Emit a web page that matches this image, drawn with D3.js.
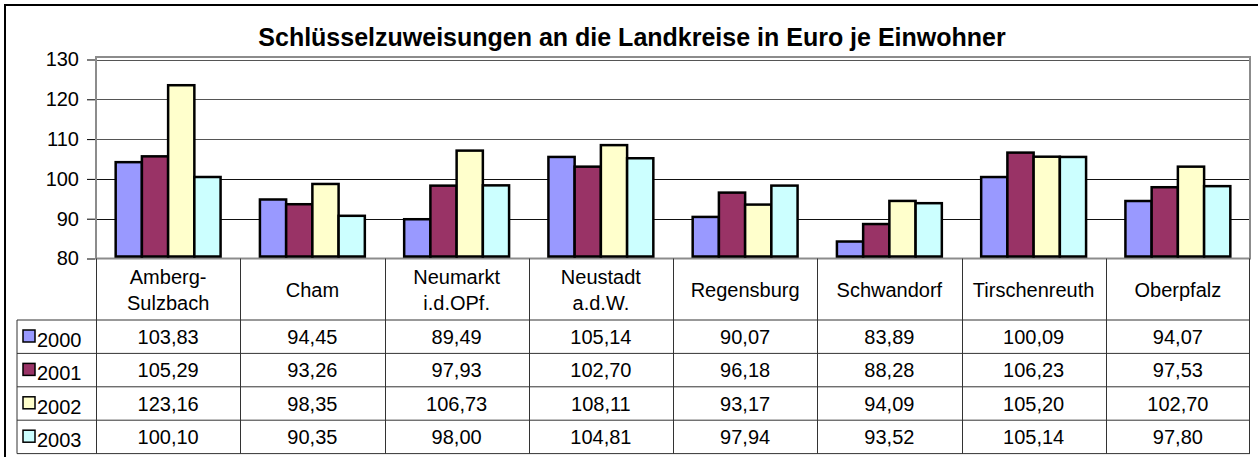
<!DOCTYPE html>
<html>
<head>
<meta charset="utf-8">
<style>
body { margin: 0; background: #fff; }
svg { display: block; font-family: "Liberation Sans", Arial, sans-serif; }
</style>
</head>
<body>
<svg id="svg"></svg>
<script src="https://cdnjs.cloudflare.com/ajax/libs/d3/7.8.5/d3.min.js"></script>
<script>
var categories = ["Amberg-\nSulzbach", "Cham", "Neumarkt\ni.d.OPf.", "Neustadt\na.d.W.", "Regensburg", "Schwandorf", "Tirschenreuth", "Oberpfalz"]
var years = ["2000", "2001", "2002", "2003"]
var v2000 = [103.83, 94.45, 89.49, 105.14, 90.07, 83.89, 100.09, 94.07]
var v2001 = [105.29, 93.26, 97.93, 102.70, 96.18, 88.28, 106.23, 97.53]
var v2002 = [123.16, 98.35, 106.73, 108.11, 93.17, 94.09, 105.20, 102.70]
var v2003 = [100.10, 90.35, 98.00, 104.81, 97.94, 93.52, 105.14, 97.80]
var yTicks = [80, 90, 100, 110, 120, 130]
var colors = ["#9999ff", "#993366", "#ffffcc", "#ccffff"]
var series = [v2000, v2001, v2002, v2003]
var title = "Schlüsselzuweisungen an die Landkreise in Euro je Einwohner"

var W = 1258, H = 457
var plot = {left: 96, right: 1250, top: 59.5, bottom: 258.5}
var headerTop = 260, headerBottom = 320, rowH = 33.4
var legendLeft = 17

var fmt = function(v) { return v.toFixed(2).replace(".", ",") }

var svg = d3.select("#svg").attr("width", W).attr("height", H)

// outer chart frame (cut off on right/bottom)
svg.append("rect")
  .attr("x", 5).attr("y", 5).attr("width", 1270).attr("height", 470)
  .attr("fill", "#fff").attr("stroke", "#000").attr("stroke-width", 2)

svg.append("text")
  .attr("x", 632).attr("y", 46)
  .attr("text-anchor", "middle")
  .attr("font-size", 25).attr("font-weight", "bold")
  .text(title)

var x = d3.scaleBand().domain(categories).range([plot.left, plot.right])
var bw = x.bandwidth()
var x1 = d3.scaleBand().domain(years).range([bw * 0.75 / 5.5, bw - bw * 0.75 / 5.5])
var y = d3.scaleLinear().domain([80, 130]).range([plot.bottom, plot.top])

// plot area frame
svg.append("rect")
  .attr("x", plot.left).attr("y", plot.top - 2.5)
  .attr("width", plot.right - plot.left).attr("height", plot.bottom - plot.top + 2.5)
  .attr("fill", "#fff").attr("stroke", "#8c8c8c").attr("stroke-width", 2)

// gridlines
svg.append("g").selectAll("line")
  .data(yTicks.filter(function(d) { return d > 80 }))
  .enter().append("line")
  .attr("x1", plot.left + 1).attr("x2", plot.right - 1)
  .attr("y1", function(d) { return Math.round(y(d)) + 0.5 })
  .attr("y2", function(d) { return Math.round(y(d)) + 0.5 })
  .attr("stroke", function(d) { return d > 105 ? "#555" : "#111" })
  .attr("stroke-width", 1)

// y axis
var yAxis = d3.axisLeft(y).tickValues(yTicks).tickSize(8).tickPadding(8)
var ga = svg.append("g").attr("transform", "translate(" + (plot.left - 1) + ",0)").call(yAxis)
ga.select(".domain").remove()
ga.selectAll("text").attr("font-size", 20).attr("font-family", "Liberation Sans, Arial, sans-serif").attr("fill", "#000")
ga.selectAll("line").attr("stroke", "#000")

// bars (outline drawn outside the value, as in the original)
var groups = svg.append("g").selectAll("g")
  .data(categories)
  .enter().append("g")
  .attr("transform", function(d) { return "translate(" + x(d) + ",0)" })
groups.selectAll("rect")
  .data(function(d, i) { return series.map(function(s, j) { return {year: years[j], value: s[i], c: colors[j]} }) })
  .enter().append("rect")
  .attr("x", function(d) { return x1(d.year) })
  .attr("width", x1.bandwidth())
  .attr("y", function(d) { return y(d.value) - 1.5 })
  .attr("height", function(d) { return y(80) - y(d.value) - 0.5 })
  .attr("fill", function(d) { return d.c })
  .attr("stroke", "#000").attr("stroke-width", 2.5)

// data table
var tbl = svg.append("g")
var lineCol = "#333"
tbl.append("line").attr("x1", plot.left).attr("x2", plot.right).attr("y1", headerBottom).attr("y2", headerBottom).attr("stroke", lineCol)
years.forEach(function(yr, i) {
  var yy = headerBottom + (i + 1) * rowH
  tbl.append("line").attr("x1", legendLeft).attr("x2", plot.right).attr("y1", yy).attr("y2", yy).attr("stroke", lineCol)
})
tbl.append("line").attr("x1", legendLeft).attr("x2", plot.left).attr("y1", headerBottom).attr("y2", headerBottom).attr("stroke", lineCol)
tbl.append("line").attr("x1", legendLeft).attr("x2", legendLeft).attr("y1", headerBottom).attr("y2", headerBottom + 4 * rowH).attr("stroke", lineCol)
categories.concat(["end"]).forEach(function(c, i) {
  var xx = c === "end" ? plot.right - 0.5 : Math.round(x(c)) + 0.5
  tbl.append("line").attr("x1", xx).attr("x2", xx).attr("y1", plot.bottom).attr("y2", headerBottom + 4 * rowH).attr("stroke", lineCol)
})

// category labels
categories.forEach(function(c) {
  var parts = c.split("\n")
  var cx = x(c) + bw / 2
  var t = tbl.append("text").attr("text-anchor", "middle").attr("font-size", 20)
  if (parts.length === 1) {
    t.attr("x", cx).attr("y", 297).text(c)
  } else {
    t.append("tspan").attr("x", cx).attr("y", 284).text(parts[0])
    t.append("tspan").attr("x", cx).attr("y", 310).text(parts[1])
  }
})

// rows
years.forEach(function(yr, j) {
  var top = headerBottom + j * rowH
  tbl.append("rect")
    .attr("x", 23).attr("y", top + 10).attr("width", 12).attr("height", 12)
    .attr("fill", colors[j]).attr("stroke", "#000").attr("stroke-width", 1.5)
  tbl.append("text")
    .attr("x", 37).attr("y", top + 27).attr("font-size", 20)
    .text(yr)
  tbl.selectAll(null)
    .data(series[j])
    .enter().append("text")
    .attr("x", function(d, i) { return x(categories[i]) + bw / 2 })
    .attr("y", top + 24)
    .attr("text-anchor", "middle")
    .attr("font-size", 20)
    .text(fmt)
})
</script>
</body>
</html>
